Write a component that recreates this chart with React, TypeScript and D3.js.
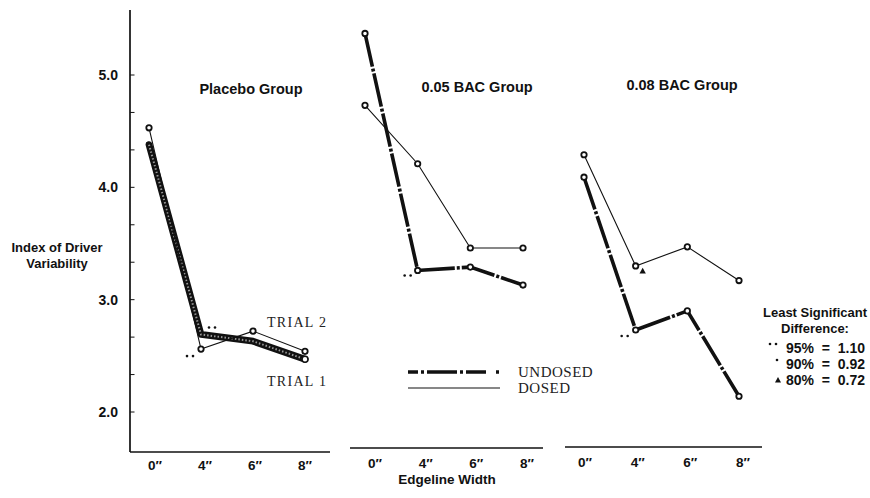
import React from "react";
import * as d3 from "d3";

const categories = ['0″', '4″', '6″', '8″'];
const yTicks = [2, 3, 4, 5];
const placeboTrial1 = [4.38, 2.69, 2.63, 2.47];
const placeboTrial2 = [4.53, 2.56, 2.72, 2.54];
const bac05Undosed = [5.37, 3.26, 3.29, 3.13];
const bac05Dosed = [4.73, 4.21, 3.46, 3.46];
const bac08Undosed = [4.09, 2.73, 2.9, 2.14];
const bac08Dosed = [4.29, 3.3, 3.47, 3.17];
const panelTitles = ["Placebo Group", "0.05 BAC Group", "0.08 BAC Group"];
const lsdRows = ["95% = 1.10", "90% = 0.92", "80% = 0.72"];

const W = 870;
const H = 498;
const SANS = "'Liberation Sans', Arial, Helvetica, sans-serif";
const SERIF = "'Liberation Serif', 'Times New Roman', serif";

const y = d3.scaleLinear().domain([2, 5]).range([412, 75]);

const panels = [
  { pts: [149, 305], lbl: [155, 305], base: [130, 330], baseY: 452, lblY: 470, titleX: 251, titleY: 94 },
  { pts: [365, 523], lbl: [375, 527], base: [350, 543], baseY: 448, lblY: 468, titleX: 477, titleY: 92 },
  { pts: [584, 739], lbl: [585, 743], base: [565, 762], baseY: 447, lblY: 467, titleX: 682, titleY: 90 },
];

const xPts = panels.map((p) => d3.scalePoint<string>().domain(categories).range(p.pts as [number, number]));
const xLbl = panels.map((p) => d3.scalePoint<string>().domain(categories).range(p.lbl as [number, number]));

function linePath(panel: number, vals: number[]) {
  const g = d3
    .line<number>()
    .x((_, i) => xPts[panel](categories[i]) as number)
    .y((v) => y(v));
  return g(vals) || "";
}

function Markers({ panel, vals }: { panel: number; vals: number[] }) {
  return (
    <g>
      {vals.map((v, i) => (
        <circle key={i} cx={xPts[panel](categories[i])} cy={y(v)} r={2.7} fill="#fff" stroke="#111" strokeWidth={1.8} />
      ))}
    </g>
  );
}

function Stars({ x, yy, n }: { x: number; yy: number; n: number }) {
  return (
    <g>
      {d3.range(n).map((k) => (
        <circle key={k} cx={x + k * 6} cy={yy} r={1.3} fill="#111" />
      ))}
    </g>
  );
}

function Tri({ x, yy, s }: { x: number; yy: number; s: number }) {
  return <path d={`M${x},${yy - s} L${x + s},${yy + s * 0.8} L${x - s},${yy + s * 0.8} Z`} fill="#111" />;
}

export default function App() {
  const minorTicks = d3.range(0, 11).map((k) => 2 + (k - 1) / 3).filter((v) => y(v) > 14 && y(v) < 448);
  const px = (p: number, i: number) => xPts[p](categories[i]) as number;
  return (
    <svg width={W} height={H} style={{ position: "absolute", left: 0, top: 0, background: "#fff" }}>
      {/* y axis */}
      <line x1={130} y1={10} x2={130} y2={452} stroke="#111" strokeWidth={1.7} />
      {minorTicks.map((v, i) => (
        <line key={i} x1={130} x2={134.5} y1={y(v)} y2={y(v)} stroke="#111" strokeWidth={1} />
      ))}
      {yTicks.map((v) => (
        <text key={v} x={118} y={y(v) + 5} textAnchor="end" fontFamily={SANS} fontWeight="bold" fontSize={14} fill="#111">
          {v.toFixed(1)}
        </text>
      ))}
      <text x={57} y={252} textAnchor="middle" fontFamily={SANS} fontWeight="bold" fontSize={13} fill="#111">
        Index of Driver
      </text>
      <text x={57} y={268} textAnchor="middle" fontFamily={SANS} fontWeight="bold" fontSize={13} fill="#111">
        Variability
      </text>

      {/* panels baseline, tick labels, titles */}
      {panels.map((p, pi) => (
        <g key={pi}>
          <line x1={p.base[0]} x2={p.base[1]} y1={p.baseY} y2={p.baseY} stroke="#111" strokeWidth={1.7} />
          {categories.map((c) => (
            <text key={c} x={xLbl[pi](c)} y={p.lblY} textAnchor="middle" fontFamily={SANS} fontWeight="bold" fontSize={13.5} fill="#111">
              {c}
            </text>
          ))}
          <text x={p.titleX} y={p.titleY} textAnchor="middle" fontFamily={SANS} fontWeight="bold" fontSize={14.5} fill="#111">
            {panelTitles[pi]}
          </text>
        </g>
      ))}
      <text x={447} y={484} textAnchor="middle" fontFamily={SANS} fontWeight="bold" fontSize={13.5} fill="#111">
        Edgeline Width
      </text>

      {/* Placebo */}
      <path d={linePath(0, placeboTrial1)} fill="none" stroke="#111" strokeWidth={6.8} strokeLinejoin="round" strokeLinecap="round" />
      <path d={linePath(0, placeboTrial1)} fill="none" stroke="#999" strokeWidth={2} strokeDasharray="1.5 2" />
      <path d={linePath(0, placeboTrial2)} fill="none" stroke="#111" strokeWidth={1.1} />
      <Markers panel={0} vals={placeboTrial2} />
      <circle cx={px(0, 3)} cy={y(placeboTrial1[3])} r={3} fill="#fff" stroke="#111" strokeWidth={1.6} />
      <Stars x={px(0, 1) - 14} yy={y(placeboTrial2[1]) + 7} n={2} />
      <Stars x={px(0, 1) + 8} yy={y(placeboTrial1[1]) - 7} n={2} />
      <text x={267} y={327} fontFamily={SERIF} fontSize={14} letterSpacing={1.3} fill="#222">TRIAL 2</text>
      <text x={267} y={386} fontFamily={SERIF} fontSize={14} letterSpacing={1.3} fill="#222">TRIAL 1</text>

      {/* 0.05 BAC */}
      <path d={linePath(1, bac05Undosed)} fill="none" stroke="#111" strokeWidth={3.6} strokeDasharray="34 2 3 2" />
      <Markers panel={1} vals={bac05Undosed} />
      <path d={linePath(1, bac05Dosed)} fill="none" stroke="#111" strokeWidth={1.1} />
      <Markers panel={1} vals={bac05Dosed} />
      <Stars x={px(1, 1) - 13} yy={y(bac05Undosed[1]) + 5} n={2} />

      {/* 0.08 BAC */}
      <path d={linePath(2, bac08Undosed)} fill="none" stroke="#111" strokeWidth={3.6} strokeDasharray="34 2 3 2" />
      <Markers panel={2} vals={bac08Undosed} />
      <path d={linePath(2, bac08Dosed)} fill="none" stroke="#111" strokeWidth={1.1} />
      <Markers panel={2} vals={bac08Dosed} />
      <Stars x={px(2, 1) - 14} yy={y(bac08Undosed[1]) + 6} n={2} />
      <Tri x={px(2, 1) + 7} yy={y(bac08Dosed[1]) + 5} s={3.2} />

      {/* Undosed / Dosed legend */}
      <line x1={408} x2={500} y1={372} y2={372} stroke="#111" strokeWidth={3.6} strokeDasharray="10 3 3 3 30 3 3 3 20" />
      <line x1={408} x2={500} y1={388} y2={388} stroke="#111" strokeWidth={1.1} />
      <text x={518} y={377} fontFamily={SERIF} fontSize={15} letterSpacing={0.5} fill="#222">UNDOSED</text>
      <text x={518} y={393} fontFamily={SERIF} fontSize={15} letterSpacing={0.5} fill="#222">DOSED</text>

      {/* LSD legend */}
      <text x={815} y={317} textAnchor="middle" fontFamily={SANS} fontWeight="bold" fontSize={13} fill="#111">Least Significant</text>
      <text x={815} y={333} textAnchor="middle" fontFamily={SANS} fontWeight="bold" fontSize={13} fill="#111">Difference:</text>
      {lsdRows.map((r, i) => (
        <text key={r} x={786} y={353 + i * 16} fontFamily={SANS} fontWeight="bold" fontSize={14} fill="#111" xmlSpace="preserve">
          {r.replace(" = ", "  =  ")}
        </text>
      ))}
      <Stars x={770} yy={344} n={2} />
      <Stars x={777} yy={360} n={1} />
      <Tri x={778} yy={380} s={3} />
    </svg>
  );
}
